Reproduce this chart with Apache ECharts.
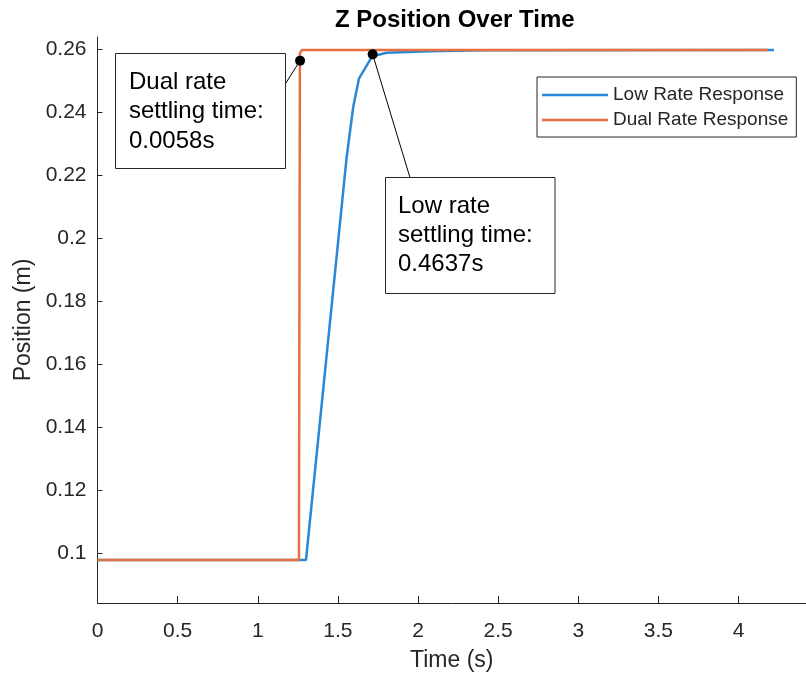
<!DOCTYPE html>
<html>
<head>
<meta charset="utf-8">
<script src="https://cdn.jsdelivr.net/npm/echarts@6/dist/echarts.min.js"></script>
<style>html,body{margin:0;padding:0;background:#fff;}#c{width:806px;height:675px;}</style>
</head>
<body>
<div id="c"></div>
<script>
const lowT  = [0, 1.301, 1.555, 1.596, 1.632, 1.700, 1.721, 1.805, 2.075, 2.4, 4.221];
const lowZ  = [0.0978, 0.0978, 0.2258, 0.2417, 0.2507, 0.2565, 0.2578, 0.2588, 0.2593, 0.2596, 0.2597];
const dualT = [0, 1.257, 1.263, 1.276, 4.184];
const dualZ = [0.0978, 0.0978, 0.2587, 0.2597, 0.2597];
const settlePoints = [[1.264, 0.2563], [1.717, 0.2583]];
const xTicks = [0, 0.5, 1, 1.5, 2, 2.5, 3, 3.5, 4];
const yTicks = [0.1, 0.12, 0.14, 0.16, 0.18, 0.2, 0.22, 0.24, 0.26];
const seriesNames = ['Low Rate Response', 'Dual Rate Response'];
const dualText = ['Dual rate', 'settling time:', '0.0058s'];
const lowText = ['Low rate', 'settling time:', '0.4637s'];

const FONT = "'Liberation Sans', Arial, Helvetica, sans-serif";
const AX = '#262626';
const BLUE = '#2a88d6';
const ORANGE = '#e6703f';

const chart = echarts.init(document.getElementById('c'), null, {renderer: 'canvas'});
const zip = (a, b) => a.map((v, i) => [v, b[i]]);

chart.setOption({
  animation: false,
  backgroundColor: '#fff',
  title: {
    text: 'Z Position Over Time',
    left: 335, top: 8, padding: 0,
    textStyle: {fontFamily: FONT, fontSize: 24, fontWeight: 'bold', color: '#000', lineHeight: 24}
  },
  grid: {left: 97.5, right: 0, top: 37, bottom: 72, containLabel: false, outerBoundsMode: 'none'},
  legend: {
    data: seriesNames,
    orient: 'vertical',
    left: 537, top: 77,
    padding: [8, 8, 7, 5],
    icon: 'rect',
    itemWidth: 66, itemHeight: 2.5, itemGap: 5,
    borderColor: AX, borderWidth: 1, backgroundColor: '#fff',
    textStyle: {fontFamily: FONT, fontSize: 19, color: AX, lineHeight: 20}
  },
  xAxis: {
    type: 'value', min: 0, max: 4.421,
    name: 'Time (s)', nameLocation: 'middle', nameGap: 46,
    nameTextStyle: {fontFamily: FONT, fontSize: 23, color: AX, lineHeight: 23},
    axisLine: {show: true, onZero: false, lineStyle: {color: AX, width: 1}},
    axisTick: {show: true, inside: true, length: 7, customValues: xTicks, lineStyle: {color: AX}},
    axisLabel: {customValues: xTicks, margin: 18, fontFamily: FONT, fontSize: 21, color: AX},
    splitLine: {show: false}
  },
  yAxis: {
    type: 'value', min: 0.08413, max: 0.26381,
    name: 'Position (m)', nameLocation: 'middle', nameGap: 59, nameRotate: 90,
    nameTextStyle: {fontFamily: FONT, fontSize: 23, color: AX, lineHeight: 23},
    axisLine: {show: true, onZero: false, lineStyle: {color: AX, width: 1}},
    axisTick: {show: true, inside: true, length: 5, customValues: yTicks, lineStyle: {color: AX}},
    axisLabel: {customValues: yTicks, margin: 11, fontFamily: FONT, fontSize: 21, color: AX,
      formatter: v => String(+v.toFixed(2))},
    splitLine: {show: false}
  },
  series: [
    {
      name: seriesNames[0], type: 'line', data: zip(lowT, lowZ),
      symbol: 'none', color: BLUE, lineStyle: {width: 2.5, color: BLUE}, z: 2
    },
    {
      name: seriesNames[1], type: 'line', data: zip(dualT, dualZ),
      symbol: 'none', color: ORANGE, lineStyle: {width: 2.5, color: ORANGE}, z: 3
    },
    {
      name: 'settle', type: 'scatter', data: settlePoints,
      symbol: 'circle', symbolSize: 10, itemStyle: {color: '#000', opacity: 1}, z: 5,
      markLine: {
        silent: true, symbol: ['none', 'none'], label: {show: false},
        lineStyle: {color: '#000', width: 1, type: 'solid', opacity: 1},
        data: [
          [{coord: settlePoints[0]}, {x: 285.7, y: 83.3}],
          [{coord: settlePoints[1]}, {x: 410, y: 177.7}]
        ]
      }
    }
  ],
  graphic: [
    {type: 'rect', z: 10, shape: {x: 115.5, y: 53.5, width: 170, height: 115},
      style: {fill: '#fff', stroke: AX, lineWidth: 1}},
    {type: 'text', z: 11, x: 129, y: 67.5,
      style: {text: dualText.join('\n'), fontFamily: FONT, fontSize: 24, lineHeight: 29.5, fill: '#000', verticalAlign: 'top'}},
    {type: 'rect', z: 10, shape: {x: 385.5, y: 177.5, width: 169.5, height: 116},
      style: {fill: '#fff', stroke: AX, lineWidth: 1}},
    {type: 'text', z: 11, x: 398, y: 191.5,
      style: {text: lowText.join('\n'), fontFamily: FONT, fontSize: 24, lineHeight: 29.2, fill: '#000', verticalAlign: 'top'}}
  ]
});
</script>
</body>
</html>
